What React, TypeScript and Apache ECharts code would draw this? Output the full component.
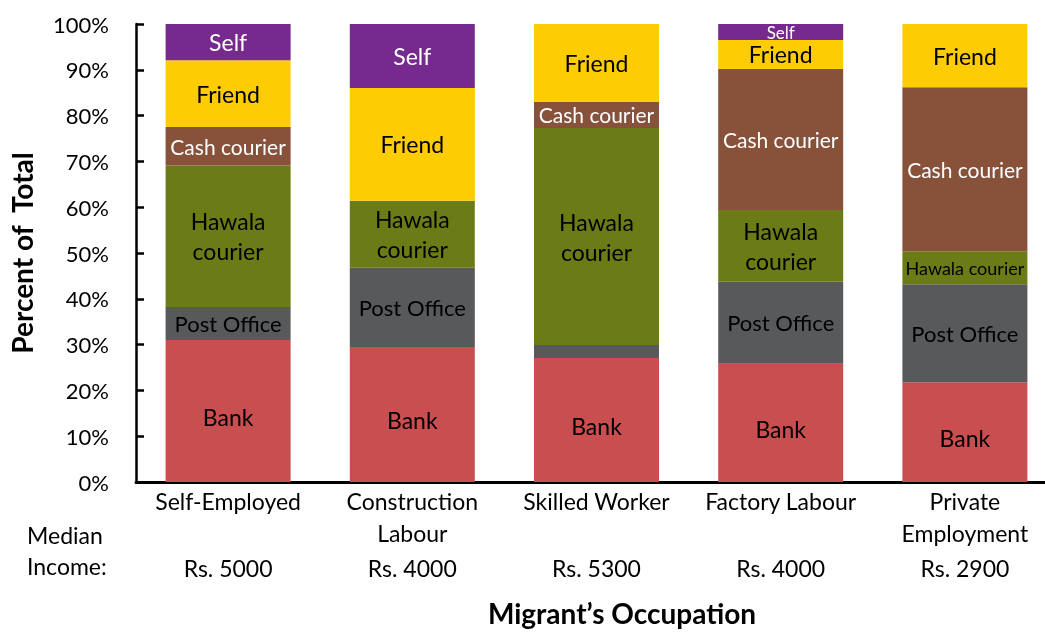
import React, { useEffect, useRef } from "react";
import * as echarts from "echarts";

const categories = ["Self-Employed", "Construction\nLabour", "Skilled Worker", "Factory Labour", "Private\nEmployment"];
const medianIncome = ["Rs. 5000", "Rs. 4000", "Rs. 5300", "Rs. 4000", "Rs. 2900"];

const bank = [31.0, 29.5, 27.1, 25.8, 21.8];
const postOffice = [7.2, 17.3, 2.8, 17.9, 21.4];
const hawala = [30.9, 14.6, 47.4, 15.7, 7.2];
const cashCourier = [8.4, 0, 5.7, 30.8, 35.8];
const friend = [14.6, 24.6, 17.0, 6.3, 13.8];
const self = [7.9, 14.0, 0, 3.5, 0];

const FONT = "Lato";

type SeriesDef = {
  name: string;
  values: number[];
  color: string;
  textColor: string;
  labelText: string;
  fontSize: number;
  offsetY?: number;
  overrides?: Record<number, any>;
};

const seriesDefs: SeriesDef[] = [
  { name: "Bank", values: bank, color: "#C84E50", textColor: "#000", labelText: "Bank", fontSize: 23, offsetY: 6 },
  {
    name: "Post Office", values: postOffice, color: "#58595B", textColor: "#000", labelText: "Post Office", fontSize: 22,
    overrides: { 2: { show: false } },
  },
  {
    name: "Hawala courier", values: hawala, color: "#6B7C17", textColor: "#000", labelText: "Hawala\ncourier", fontSize: 23,
    overrides: { 4: { formatter: "Hawala courier", fontSize: 18 } },
  },
  { name: "Cash courier", values: cashCourier, color: "#87513A", textColor: "#fff", labelText: "Cash courier", fontSize: 21 },
  { name: "Friend", values: friend, color: "#FDCC03", textColor: "#000", labelText: "Friend", fontSize: 23 },
  {
    name: "Self", values: self, color: "#762A8E", textColor: "#fff", labelText: "Self", fontSize: 23,
    overrides: { 3: { fontSize: 17 } },
  },
];

export default function App() {
  const ref = useRef<HTMLDivElement>(null);
  useEffect(() => {
    if (!ref.current) return;
    const chart = echarts.init(ref.current, undefined, { renderer: "svg" });
    const series = seriesDefs.map((d) => ({
      name: d.name,
      type: "bar",
      stack: "total",
      barWidth: 125,
      itemStyle: { color: d.color },
      label: {
        show: true,
        position: "inside",
        formatter: d.labelText,
        color: d.textColor,
        fontSize: d.fontSize,
        lineHeight: 30,
        fontFamily: FONT,
        offset: [0, d.offsetY || 0],
      },
      data: d.values.map((v, i) => {
        const ov = d.overrides && d.overrides[i];
        const item: any = { value: v };
        if (v === 0) item.label = { show: false };
        else if (ov) item.label = ov;
        return item;
      }),
    }));
    chart.setOption({
      animation: false,
      textStyle: { fontFamily: FONT },
      grid: { left: 136, top: 24, height: 458, width: 921 },
      xAxis: [
        {
          type: "category",
          data: categories,
          axisLine: { lineStyle: { color: "#000", width: 3 } },
          axisTick: { show: false },
          axisLabel: { color: "#000", fontSize: 23, lineHeight: 32, margin: 3, fontFamily: FONT, interval: 0 },
        },
        {
          type: "category",
          data: medianIncome,
          position: "bottom",
          offset: 72,
          axisLine: { show: false },
          axisTick: { show: false },
          axisLabel: { color: "#000", fontSize: 23, margin: 2, fontFamily: FONT, interval: 0 },
        },
      ],
      yAxis: {
        type: "value",
        min: 0,
        max: 100,
        interval: 10,
        name: "Percent of  Total",
        nameLocation: "middle",
        nameRotate: 90,
        nameGap: 100,
        nameTextStyle: { color: "#000", fontSize: 28, fontWeight: "bold", fontFamily: FONT },
        axisLine: { show: true, lineStyle: { color: "#000", width: 2.5 } },
        axisTick: { show: true, inside: true, length: 8, lineStyle: { color: "#000", width: 2.5 } },
        axisLabel: { color: "#000", fontSize: 22, formatter: "{value}%", margin: 27, fontFamily: FONT },
        splitLine: { show: false },
      },
      graphic: [
        {
          type: "text",
          left: 27,
          top: 519,
          style: { text: "Median\nIncome:", fontSize: 23, lineHeight: 31, fill: "#000", fontFamily: FONT },
        },
        {
          type: "text",
          x: 622,
          y: 613,
          style: {
            text: "Migrant\u2019s Occupation",
            fontSize: 28,
            fontWeight: "bold",
            fill: "#000",
            fontFamily: FONT,
            align: "center",
            verticalAlign: "middle",
          },
        },
      ],
      series,
    });
    return () => chart.dispose();
  }, []);
  return (
    <div style={{ position: "fixed", left: 0, top: 0, width: 1045, height: 632, overflow: "hidden" }}>
      <div ref={ref} style={{ position: "absolute", left: 0, top: 0, width: 1070, height: 632 }} />
    </div>
  );
}
